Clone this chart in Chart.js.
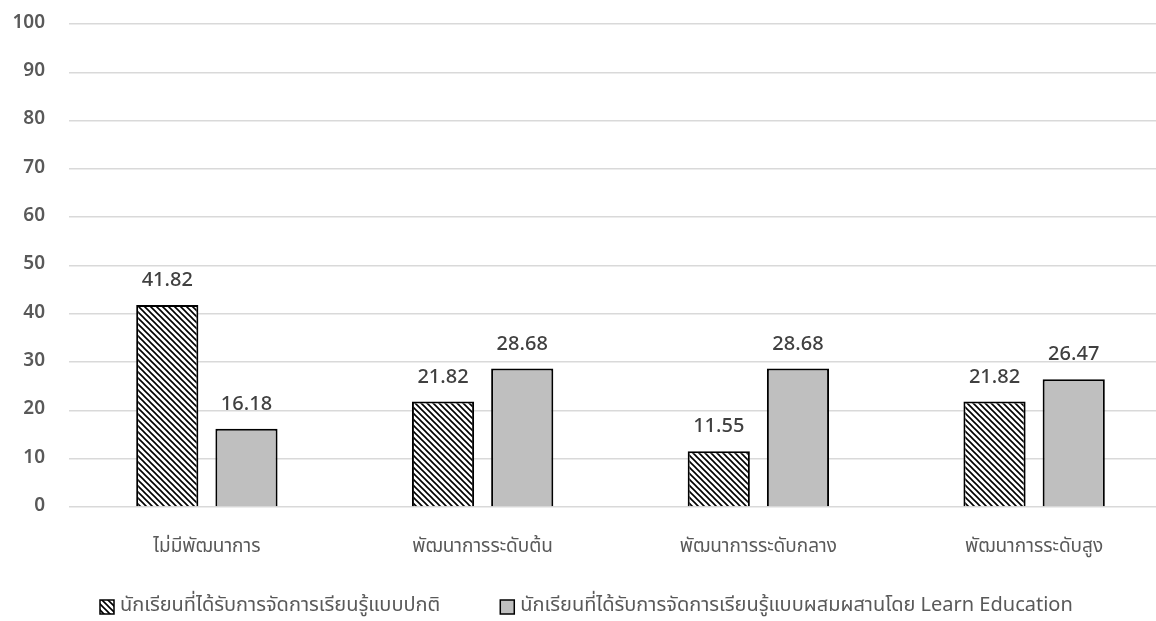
<!DOCTYPE html>
<html>
<head>
<meta charset="utf-8">
<script src="https://cdn.jsdelivr.net/npm/chart.js@4.4.1/dist/chart.umd.min.js"></script>
<style>
  html, body { margin: 0; padding: 0; background: #fff; overflow: hidden; width: 1156px; height: 621px; }
  canvas { display: block; }
</style>
</head>
<body>
<canvas id="chart" width="1172" height="621"></canvas>
<script>
const categories = ['ไม่มีพัฒนาการ', 'พัฒนาการระดับต้น', 'พัฒนาการระดับกลาง', 'พัฒนาการระดับสูง'];
const seriesNames = ['นักเรียนที่ได้รับการจัดการเรียนรู้แบบปกติ', 'นักเรียนที่ได้รับการจัดการเรียนรู้แบบผสมผสานโดย Learn Education'];
const normalGroup = [41.82, 21.82, 11.55, 21.82];
const blendedGroup = [16.18, 28.68, 28.68, 26.47];
const yTicks = [0, 10, 20, 30, 40, 50, 60, 70, 80, 90, 100];

const FONT = '"Noto Sans Thai", "Open Sans", "Noto Sans", sans-serif';

// diagonal hatch fill (lines running top-left to bottom-right)
function makeHatch() {
  const s = 6;
  const c = document.createElement('canvas');
  c.width = s; c.height = s;
  const g = c.getContext('2d');
  g.fillStyle = '#ffffff';
  g.fillRect(0, 0, s, s);
  g.strokeStyle = '#000000';
  g.lineWidth = 1.6;
  g.beginPath();
  g.moveTo(-1, -1); g.lineTo(s + 1, s + 1);
  g.moveTo(-1, s - 1); g.lineTo(1, s + 1);
  g.moveTo(s - 1, -1); g.lineTo(s + 1, 1);
  g.stroke();
  return g.createPattern(c, 'repeat');
}
const hatch = makeHatch();

// value labels above each bar
const valueLabels = {
  id: 'valueLabels',
  afterDatasetsDraw(chart) {
    const ctx = chart.ctx;
    ctx.save();
    ctx.font = '500 20px ' + FONT;
    ctx.fillStyle = '#404040';
    ctx.textAlign = 'center';
    ctx.textBaseline = 'middle';
    chart.data.datasets.forEach((ds, i) => {
      chart.getDatasetMeta(i).data.forEach((bar, j) => {
        ctx.fillText(ds.data[j].toFixed(2), bar.x, bar.y - 23);
      });
    });
    ctx.restore();
  }
};

// legend row under the category labels
const bottomLegend = {
  id: 'bottomLegend',
  afterDraw(chart) {
    const ctx = chart.ctx;
    const y = 607;
    const box = 14;
    ctx.save();
    ctx.font = '20px ' + FONT;
    ctx.textBaseline = 'middle';
    ctx.textAlign = 'left';
    let x = 100;
    chart.data.datasets.forEach((ds, i) => {
      ctx.fillStyle = ds.backgroundColor;
      ctx.fillRect(x, y - box / 2, box, box);
      ctx.strokeStyle = '#000000';
      ctx.lineWidth = 1.5;
      ctx.strokeRect(x, y - box / 2, box, box);
      ctx.fillStyle = '#595959';
      ctx.fillText(ds.label, x + box + 6, y);
      x += box + 6 + ctx.measureText(ds.label).width + 60;
    });
    ctx.restore();
  }
};

new Chart(document.getElementById('chart'), {
  type: 'bar',
  data: {
    labels: categories,
    datasets: [
      {
        label: seriesNames[0],
        data: normalGroup,
        backgroundColor: hatch,
        borderColor: '#000000',
        borderWidth: 2,
        categoryPercentage: 0.5745,
        barPercentage: 0.785
      },
      {
        label: seriesNames[1],
        data: blendedGroup,
        backgroundColor: '#bfbfbf',
        borderColor: '#000000',
        borderWidth: 2,
        categoryPercentage: 0.5745,
        barPercentage: 0.785
      }
    ]
  },
  options: {
    responsive: false,
    animation: false,
    layout: { padding: { top: 24, left: 0, right: 0, bottom: 60 } },
    plugins: {
      tooltip: { enabled: false },
      legend: { display: false }
    },
    scales: {
      x: {
        grid: { display: false },
        border: { display: false },
        ticks: {
          color: '#595959',
          font: { family: FONT, size: 19 },
          padding: 22
        },
        afterFit(scale) { scale.height = 54; scale.paddingLeft = 0; scale.paddingRight = 0; }
      },
      y: {
        min: 0,
        max: 100,
        afterBuildTicks(scale) { scale.ticks = yTicks.map(v => ({ value: v })); },
        grid: { color: '#d9d9d9', lineWidth: 1.5, drawTicks: false },
        border: { display: false },
        ticks: {
          color: '#595959',
          font: { family: FONT, size: 19, weight: '600' },
          padding: 24
        },
        afterFit(scale) { scale.width = 69; scale.paddingTop = 0; scale.paddingBottom = 0; }
      }
    }
  },
  plugins: [valueLabels, bottomLegend]
});
</script>
</body>
</html>
